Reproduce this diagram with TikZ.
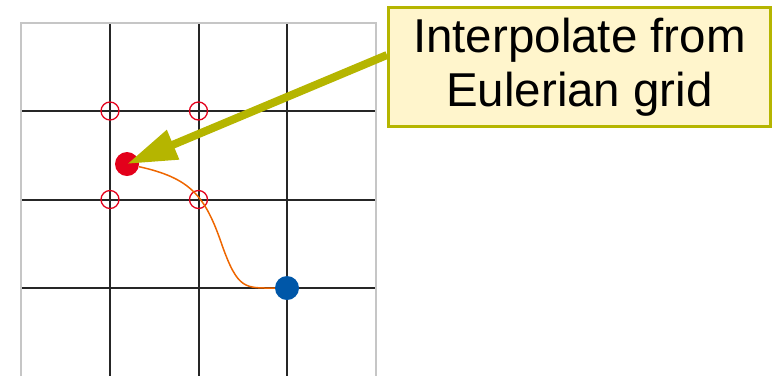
\documentclass[tikz,border=0pt]{standalone}
\usepackage{fontspec}
\setmainfont{Liberation Sans}
\usetikzlibrary{arrows.meta}
\definecolor{olivebar}{RGB}{181,181,0}
\definecolor{notefill}{RGB}{255,245,204}
\definecolor{dotred}{RGB}{227,0,27}
\definecolor{dotblue}{RGB}{0,87,168}
\definecolor{pathorange}{RGB}{238,102,0}
\begin{document}
\begin{tikzpicture}[
        x=1pt, y=-1pt,
        frame/.style={gray!45, line width=1.5pt},
        gridline/.style={black!85, line width=2pt},
        gridpt/.style={circle, draw=dotred, line width=1.3pt, minimum size=18pt, inner sep=0pt},
        particle/.style={circle, minimum size=24pt, inner sep=0pt},
        note/.style={rectangle, draw=olivebar, line width=3pt, fill=notefill, minimum width=382pt, minimum height=119pt, align=center, font=\fontsize{47.5}{54}\selectfont},
        arrow/.style={olivebar, line width=8pt, -{Triangle[length=50pt,width=30pt]}},
        track/.style={pathorange, line width=1.5pt}
    ]
        \useasboundingbox (0,0) rectangle (776,376);

        % Eulerian grid
        \draw[frame] (21,376) -- (21,23) -- (376,23) -- (376,376);
        \foreach \x in {110,198.5,287}
            \draw[gridline] (\x,24) -- (\x,376);
        \foreach \y in {111,199.5,288}
            \draw[gridline] (22,\y) -- (375,\y);

        % grid points used for interpolation
        \foreach \x/\y/\n in {110/111/nw, 198.5/111/ne, 110/199.5/sw, 198.5/199.5/se}
            \node[gridpt] (g\n) at (\x,\y) {};

        \node (red) [particle, fill=dotred] at (127,164) {};
        \node (blue) [particle, fill=dotblue] at (287,288) {};

        \coordinate (bend) at (222,245);
        \draw[track] (red) .. controls (190,178) and (205,195) .. (bend)
            .. controls (238,290) and (245,288) .. (blue);

        \node (note) [note] at (579.5,67) {Interpolate from\\Eulerian grid};

        \draw[arrow] ([yshift=12pt]note.west) -- (red.center);
    \end{tikzpicture}
\end{document}
